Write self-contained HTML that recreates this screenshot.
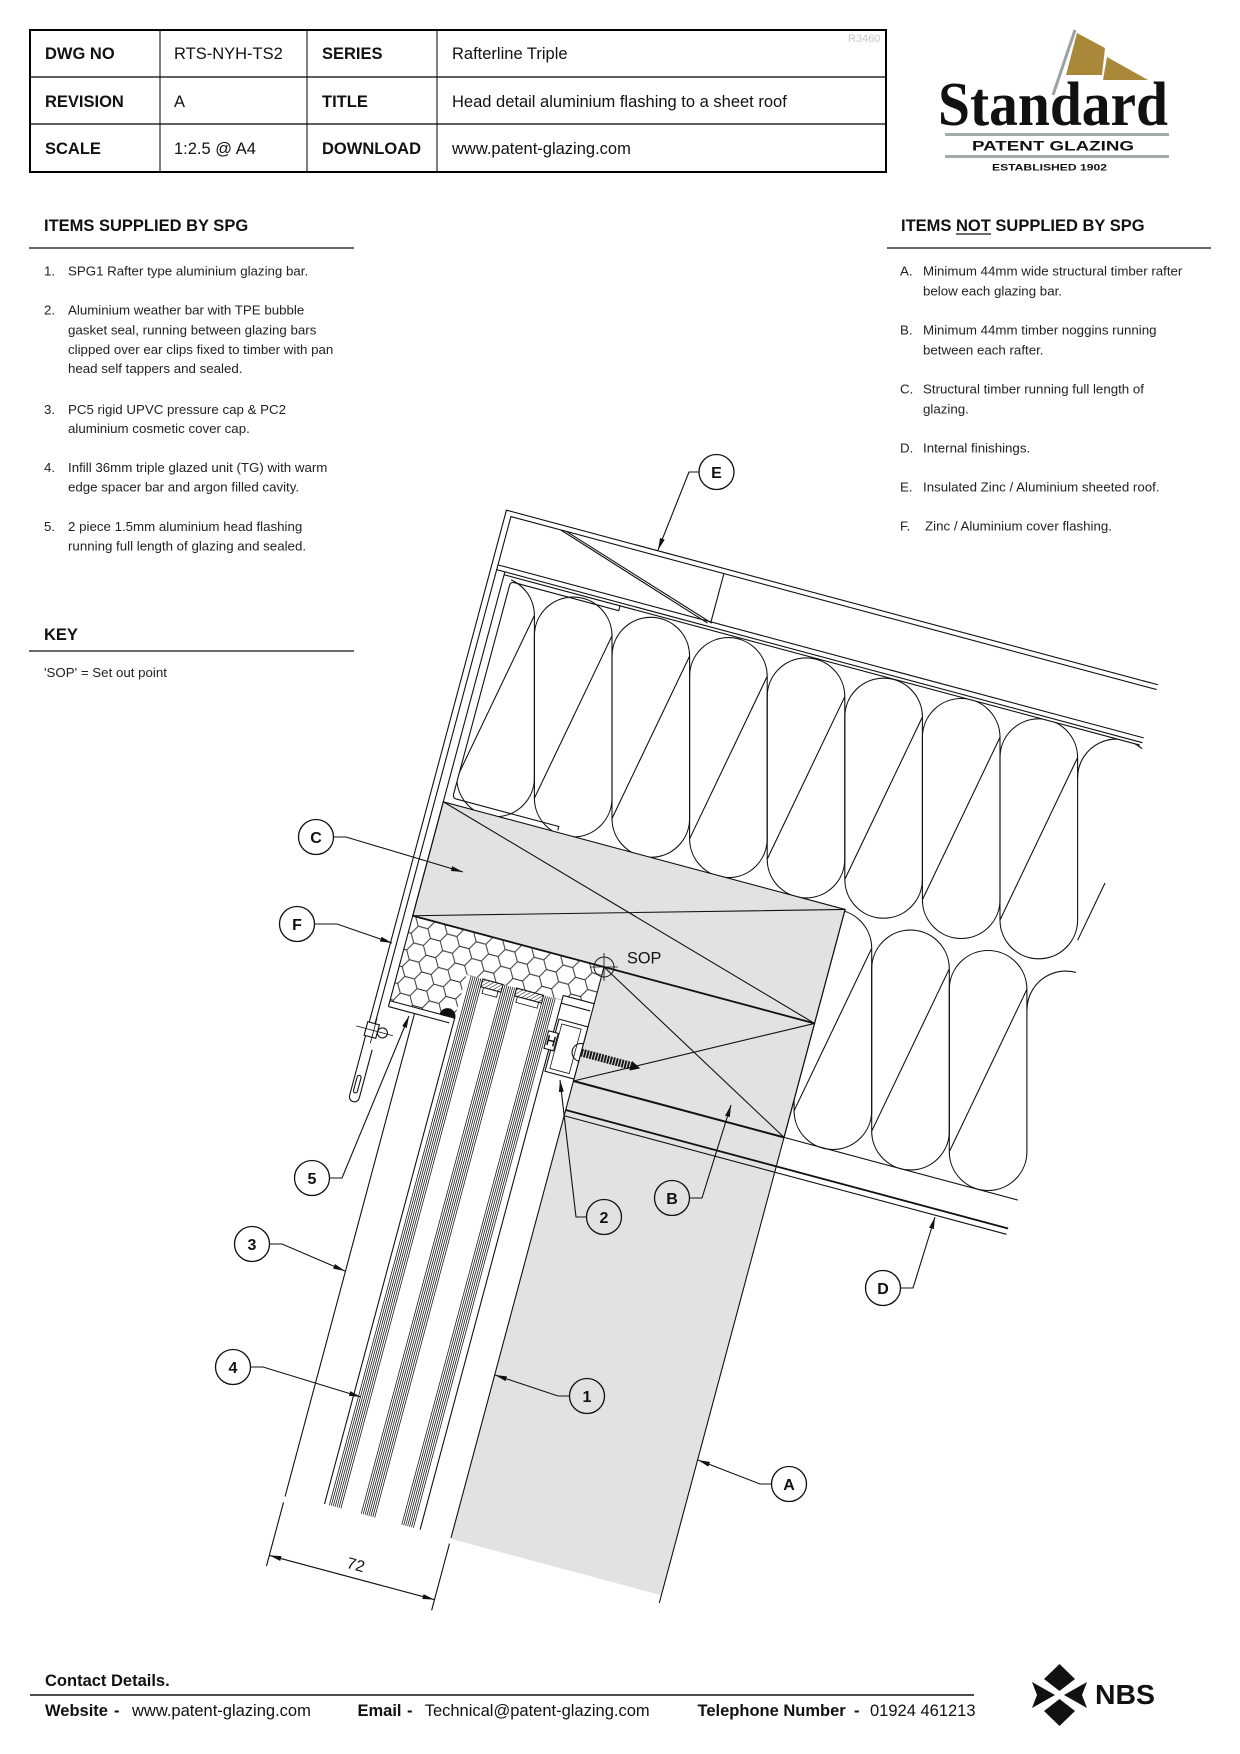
<!DOCTYPE html>
<html><head><meta charset="utf-8"><style>html,body{margin:0;padding:0;background:#fff}svg{display:block}</style></head>
<body>
<svg width="1240" height="1754" viewBox="0 0 1240 1754" xmlns="http://www.w3.org/2000/svg" font-family="'Liberation Sans', Arial, sans-serif">
<defs>
<pattern id="hex" width="30" height="17.32" patternUnits="userSpaceOnUse"><path d="M0,8.66 L5,0 L15,0 L20,8.66 L15,17.32 L5,17.32 Z M20,8.66 L30,8.66" fill="none" stroke="#222" stroke-width="0.9"/></pattern>
<pattern id="hatch" width="3" height="3" patternUnits="userSpaceOnUse" patternTransform="rotate(45)"><line x1="0" y1="0" x2="0" y2="3" stroke="#111" stroke-width="1"/></pattern>
<pattern id="thr" width="3" height="10" patternUnits="userSpaceOnUse"><rect width="1.9" height="10" fill="#111"/></pattern>
<marker id="ar" viewBox="0 0 12 5" refX="12" refY="2.5" markerWidth="12" markerHeight="5" markerUnits="userSpaceOnUse" orient="auto"><path d="M0,0L12,2.5L0,5z" fill="#111"/></marker>
<marker id="ars" viewBox="0 0 12 5" refX="12" refY="2.5" markerWidth="12" markerHeight="5" markerUnits="userSpaceOnUse" orient="auto-start-reverse"><path d="M0,0L12,2.5L0,5z" fill="#111"/></marker>
<clipPath id="cu"><rect transform="translate(604,967) rotate(15)" x="-190" y="-353" width="660" height="237"/></clipPath>
</defs>
<rect width="1240" height="1754" fill="#fff"/>

<!-- HEADER TABLE -->
<g stroke="#000" fill="none">
<rect x="30" y="30" width="856" height="142" stroke-width="2"/>
<path d="M160,30V172M307,30V172M437,30V172" stroke-width="1"/>
<path d="M30,77H886M30,124H886" stroke-width="1.3"/>
</g>
<g font-size="16.5" fill="#111">
<text x="45" y="59" font-weight="bold">DWG NO</text>
<text x="174" y="59">RTS-NYH-TS2</text>
<text x="322" y="59" font-weight="bold">SERIES</text>
<text x="452" y="59">Rafterline Triple</text>
<text x="45" y="107" font-weight="bold">REVISION</text>
<text x="174" y="107">A</text>
<text x="322" y="107" font-weight="bold">TITLE</text>
<text x="452" y="107">Head detail aluminium flashing to a sheet roof</text>
<text x="45" y="154" font-weight="bold">SCALE</text>
<text x="174" y="154">1:2.5 @ A4</text>
<text x="322" y="154" font-weight="bold">DOWNLOAD</text>
<text x="452" y="154">www.patent-glazing.com</text>
</g>
<text x="848" y="42" font-size="11" fill="#c8c8c8">R3460</text>

<!-- LOGO -->
<path d="M1075,30 L1053,95" stroke="#9aa3a3" stroke-width="3"/>
<polygon points="1077,33 1105,48 1102,75 1066,75" fill="#a9883a"/>
<polygon points="1107,57 1148,80 1103,80" fill="#a9883a"/>
<text x="938" y="125" font-family="'Liberation Serif', serif" font-weight="bold" font-size="62" textLength="230" lengthAdjust="spacingAndGlyphs" fill="#111">Standard</text>
<rect x="945" y="133" width="224" height="3" fill="#a3abab"/>
<text x="972" y="150.7" font-size="13.5" font-weight="bold" textLength="162" lengthAdjust="spacingAndGlyphs" fill="#111">PATENT GLAZING</text>
<rect x="945" y="155" width="224" height="3" fill="#a3abab"/>
<text x="992" y="170.7" font-size="9.3" font-weight="bold" textLength="115" lengthAdjust="spacingAndGlyphs" fill="#111">ESTABLISHED 1902</text>

<!-- LEFT COLUMN -->
<g fill="#111">
<text x="44" y="231" font-size="16.5" font-weight="bold">ITEMS SUPPLIED BY SPG</text>
<text x="44" y="640" font-size="16.5" font-weight="bold">KEY</text>
<text x="901" y="231" font-size="16.5" font-weight="bold">ITEMS NOT SUPPLIED BY SPG</text>
</g>
<path d="M29,248H354M29,651H354M887,248H1211M956,234H991" stroke="#111" stroke-width="1.2"/>
<g font-size="13.3" fill="#222">
<text x="44" y="275.5">1.</text><text x="68" y="275.5">SPG1 Rafter type aluminium glazing bar.</text>
<text x="44" y="314.5">2.</text><text x="68" y="314.5">Aluminium weather bar with TPE bubble</text>
<text x="68" y="334.5">gasket seal, running between glazing bars</text>
<text x="68" y="354">clipped over ear clips fixed to timber with pan</text>
<text x="68" y="373">head self tappers and sealed.</text>
<text x="44" y="414">3.</text><text x="68" y="414">PC5 rigid UPVC pressure cap &amp; PC2</text>
<text x="68" y="433">aluminium cosmetic cover cap.</text>
<text x="44" y="472">4.</text><text x="68" y="472">Infill 36mm triple glazed unit (TG) with warm</text>
<text x="68" y="491.5">edge spacer bar and argon filled cavity.</text>
<text x="44" y="531">5.</text><text x="68" y="531">2 piece 1.5mm aluminium head flashing</text>
<text x="68" y="550.5">running full length of glazing and sealed.</text>
<text x="44" y="677">'SOP' = Set out point</text>

<text x="900" y="275.5">A.</text><text x="923" y="275.5">Minimum 44mm wide structural timber rafter</text>
<text x="923" y="295.5">below each glazing bar.</text>
<text x="900" y="334.5">B.</text><text x="923" y="334.5">Minimum 44mm timber noggins running</text>
<text x="923" y="354.5">between each rafter.</text>
<text x="900" y="393.5">C.</text><text x="923" y="393.5">Structural timber running full length of</text>
<text x="923" y="413.5">glazing.</text>
<text x="900" y="452.5">D.</text><text x="923" y="452.5">Internal finishings.</text>
<text x="900" y="491.5">E.</text><text x="923" y="491.5">Insulated Zinc / Aluminium sheeted roof.</text>
<text x="900" y="530.5">F.</text><text x="925" y="530.5">Zinc / Aluminium cover flashing.</text>
</g>

<!-- INSULATION (screen aligned) -->
<g fill="none" stroke="#111" stroke-width="1.1">
<g clip-path="url(#cu)">
<path d="M456.8,615.5 A38.8,38.8 0 0 1 534.4,615.5 L534.4,777.9 A38.8,38.8 0 0 1 456.8,777.9 Z M456.8,777.9 L534.4,615.5"/>
<path d="M534.4,635.8 A38.8,38.8 0 0 1 612,635.8 L612,798.2 A38.8,38.8 0 0 1 534.4,798.2 Z M534.4,798.2 L612,635.8"/>
<path d="M612,656.1 A38.8,38.8 0 0 1 689.6,656.1 L689.6,818.5 A38.8,38.8 0 0 1 612,818.5 Z M612,818.5 L689.6,656.1"/>
<path d="M689.6,676.4 A38.8,38.8 0 0 1 767.2,676.4 L767.2,838.8 A38.8,38.8 0 0 1 689.6,838.8 Z M689.6,838.8 L767.2,676.4"/>
<path d="M767.2,696.7 A38.8,38.8 0 0 1 844.8,696.7 L844.8,859.1 A38.8,38.8 0 0 1 767.2,859.1 Z M767.2,859.1 L844.8,696.7"/>
<path d="M844.8,717 A38.8,38.8 0 0 1 922.4,717 L922.4,879.4 A38.8,38.8 0 0 1 844.8,879.4 Z M844.8,879.4 L922.4,717"/>
<path d="M922.4,737.3 A38.8,38.8 0 0 1 1000,737.3 L1000,899.7 A38.8,38.8 0 0 1 922.4,899.7 Z M922.4,899.7 L1000,737.3"/>
<path d="M1000,757.6 A38.8,38.8 0 0 1 1077.6,757.6 L1077.6,920 A38.8,38.8 0 0 1 1000,920 Z M1000,920 L1077.6,757.6"/>
<path d="M1077.6,777.9 A38.8,38.8 0 0 1 1142,748.7 M1077.6,940.3 L1105,883"/>
</g>
<path d="M794.1,948.3 A38.8,38.8 0 0 1 871.7,948.3 L871.7,1110.7 A38.8,38.8 0 0 1 794.1,1110.7 Z M794.1,1110.7 L871.7,948.3"/>
<path d="M871.7,968.8 A38.8,38.8 0 0 1 949.3,968.8 L949.3,1131.2 A38.8,38.8 0 0 1 871.7,1131.2 Z M871.7,1131.2 L949.3,968.8"/>
<path d="M949.3,989.3 A38.8,38.8 0 0 1 1026.9,989.3 L1026.9,1151.7 A38.8,38.8 0 0 1 949.3,1151.7 Z M949.3,1151.7 L1026.9,989.3"/>
<path d="M1027,1009.8 A38.8,38.8 0 0 1 1076,972.4"/>
</g>

<!-- ROTATED DETAIL -->
<g transform="translate(604,967) rotate(15)" fill="none" stroke="#111" stroke-width="1.1">
<rect x="0" y="118" width="218" height="474" fill="#e2e2e2" stroke="none"/>
<rect x="-198" y="-118" width="416" height="118" fill="#e2e2e2"/>
<rect x="0" y="0" width="218" height="118" fill="#e2e2e2"/>
<path d="M-198,-118L218,0M-198,0L218,-118M0,0L218,118M0,118L218,0"/>
<path d="M0,118V591M218,-118V600"/>
<path d="M-198,0H218" stroke-width="1.8"/>
<path d="M0,118H218" stroke-width="2"/>
<path d="M218,118H460"/>
<path d="M0,148H458" stroke-width="1.8"/>
<path d="M0,154H458"/>
<!-- honeycomb -->
<path d="M-198,0H0V38H-32V43H-131V88H-198Z" fill="url(#hex)" stroke="none"/>
<!-- roof sheets / flashing F -->
<path d="M-212.5,190V-416H462"/>
<path d="M-206.5,124V-411H462"/>
<path d="M-212.5,190A5,5 0 0 0 -202.5,190V140"/>
<rect x="-210" y="168" width="4" height="18" rx="2"/>
<rect x="-214" y="114" width="12" height="14" fill="#fff"/>
<circle cx="-197" cy="121" r="5" fill="#fff"/>
<path d="M-224,121H-186M-206,108V134" stroke-width="0.8"/>
<path d="M-206.5,-361H462M-206.5,-356H462M-198,-353H460"/>
<path d="M-198,-356V94"/>
<path d="M-155,-411L11,-359M-149,-411L15,-360"/>
<path d="M14,-411V-361"/>
<path d="M-78,-353V-348H-186Q-190,-348 -190,-344V-128Q-190,-124 -186,-124H-80V-120"/>
<!-- glazing -->
<path d="M-131,88V591M-32,38V591"/>
<path stroke-width="0.75" d="M-126,43V591M-124,43V591M-122,43V591M-120,43V591M-118,43V591M-116,43V591M-114,43V591M-93,43V591M-91,43V591M-89,43V591M-87,43V591M-85,43V591M-83,43V591M-81,43V591M-79,43V591M-51,43V591M-49,43V591M-47,43V591M-45,43V591M-43,43V591M-41,43V591M-39,43V591"/>
<rect x="-114" y="43" width="21" height="8" fill="url(#hatch)"/>
<rect x="-79" y="43" width="28" height="8" fill="url(#hatch)"/>
<path d="M-111,51V57H-96V51M-76,51V57H-54V51" stroke-width="0.8"/>
<path d="M-198,88H-131M-198,94H-135"/>
<path d="M-146,88A7.5,7.5 0 0 1 -131,88Z" fill="#111"/>
<path d="M-171,94V594M-171,600V666M0,597V666"/>
<line x1="-171" y1="655" x2="0" y2="655" marker-start="url(#ars)" marker-end="url(#ar)"/>
<text x="-85" y="647" text-anchor="middle" font-size="16" fill="#111" stroke="none">72</text>
<!-- ear clip, weather bar, screw -->
<path d="M-32,38H0M-32,46H-2"/>
<rect x="-30" y="62" width="30" height="54" fill="#fff"/>
<rect x="-26" y="66" width="20" height="46" stroke-width="0.8"/>
<rect x="-37" y="76" width="10" height="18" fill="#fff"/>
<path d="M-35,80V90M-29,80V90M-35,85H-29" stroke-width="1.5"/>
<rect x="0" y="84.5" width="52" height="8" fill="url(#thr)" stroke="none"/>
<path d="M52,84.5L60,88.5L52,92.5Z" fill="#111"/>
<path d="M0,79.5A9,9 0 0 0 0,97.5"/>
</g>

<!-- SOP -->
<circle cx="604" cy="967" r="10" fill="none" stroke="#111" stroke-width="1"/>
<path d="M590,967H618M604,953V981" stroke="#111" stroke-width="0.8"/>
<text x="627" y="963.5" font-size="16.3" fill="#111">SOP</text>

<!-- LEADERS -->
<g fill="none" stroke="#111" stroke-width="1.1">
<path d="M699,472H689L658,550" marker-end="url(#ar)"/>
<path d="M333.5,837H346L463,872" marker-end="url(#ar)"/>
<path d="M314.5,924H337L392,943" marker-end="url(#ar)"/>
<path d="M329.5,1178H342L409,1016" marker-end="url(#ar)"/>
<path d="M269.5,1244H282L345,1271" marker-end="url(#ar)"/>
<path d="M250.5,1367H263L361,1397" marker-end="url(#ar)"/>
<path d="M586.5,1217H576L560,1080" marker-end="url(#ar)"/>
<path d="M569.5,1396H558L495,1375" marker-end="url(#ar)"/>
<path d="M689.5,1198H702L731,1105" marker-end="url(#ar)"/>
<path d="M900.5,1288H913L935,1217" marker-end="url(#ar)"/>
<path d="M771.5,1484H760L698,1460" marker-end="url(#ar)"/>
</g>
<g fill="none" stroke="#111" stroke-width="1.3">
<circle cx="716.5" cy="472" r="17.5"/>
<circle cx="316" cy="837" r="17.5"/>
<circle cx="297" cy="924" r="17.5"/>
<circle cx="312" cy="1178" r="17.5"/>
<circle cx="252" cy="1244" r="17.5"/>
<circle cx="233" cy="1367" r="17.5"/>
<circle cx="604" cy="1217" r="17.5"/>
<circle cx="587" cy="1396" r="17.5"/>
<circle cx="672" cy="1198" r="17.5"/>
<circle cx="883" cy="1288" r="17.5"/>
<circle cx="789" cy="1484" r="17.5"/>
</g>
<g font-size="16" font-weight="bold" fill="#111" text-anchor="middle">
<text x="716.5" y="478">E</text>
<text x="316" y="843">C</text>
<text x="297" y="930">F</text>
<text x="312" y="1184">5</text>
<text x="252" y="1250">3</text>
<text x="233" y="1373">4</text>
<text x="604" y="1223">2</text>
<text x="587" y="1402">1</text>
<text x="672" y="1204">B</text>
<text x="883" y="1294">D</text>
<text x="789" y="1490">A</text>
</g>

<!-- FOOTER -->
<text x="45" y="1686" font-size="16.5" font-weight="bold" fill="#111">Contact Details.</text>
<path d="M30,1695H974" stroke="#111" stroke-width="1.5"/>
<g font-size="16.5" fill="#111">
<text x="45" y="1716" font-weight="bold">Website</text>
<text x="114" y="1716" font-weight="bold">-</text>
<text x="132" y="1716">www.patent-glazing.com</text>
<text x="357.5" y="1716" font-weight="bold">Email</text>
<text x="407" y="1716" font-weight="bold">-</text>
<text x="424.7" y="1716">Technical@patent-glazing.com</text>
<text x="697.5" y="1716" font-weight="bold">Telephone Number</text>
<text x="854" y="1716" font-weight="bold">-</text>
<text x="870" y="1716">01924 461213</text>
</g>
<g fill="#111">
<polygon points="1059.5,1664 1075,1679 1059.5,1691 1044,1679"/>
<polygon points="1059.5,1699 1075,1711 1059.5,1726 1044,1711"/>
<polygon points="1032,1682 1055,1695 1032,1708 1037,1695"/>
<polygon points="1087,1682 1064,1695 1087,1708 1082,1695"/>
</g>
<text x="1095" y="1704" font-size="28" font-weight="bold" textLength="60" lengthAdjust="spacingAndGlyphs" fill="#111">NBS</text>
</svg>
</body></html>
